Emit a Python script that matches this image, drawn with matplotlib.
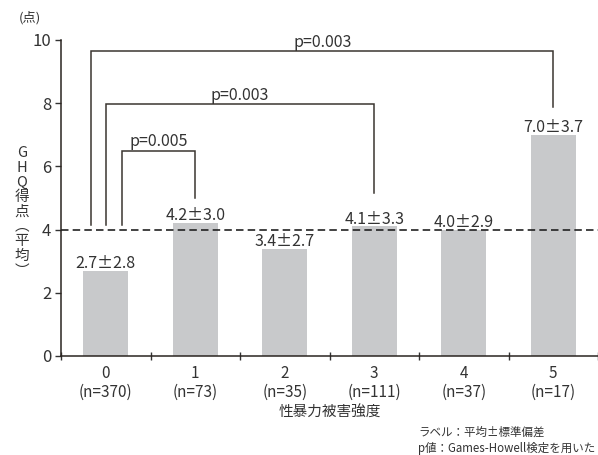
import matplotlib
matplotlib.use("Agg")
import matplotlib.pyplot as plt
import numpy as np

plt.rcParams['font.family'] = ['Noto Sans CJK JP', 'DejaVu Sans']

# data
levels = ['0', '1', '2', '3', '4', '5']
counts = [370, 73, 35, 111, 37, 17]
means = [2.7, 4.2, 3.4, 4.1, 4.0, 7.0]
sds = [2.8, 3.0, 2.7, 3.3, 2.9, 3.7]
ref_line = 4.0
# brackets: (left x, right x, top y, left foot, right foot, label)
brackets = [
    (0.18, 1.0, 6.5, 4.15, 5.0, 'p=0.005'),
    (0.0, 3.0, 7.97, 4.15, 5.15, 'p=0.003'),
    (-0.16, 5.0, 9.65, 4.15, 7.88, 'p=0.003'),
]

txt = '#333333'
linec = '#3a3530'

fig = plt.figure(figsize=(5.98, 4.55), dpi=100)
ax = fig.add_axes([61/598, (455-356)/455, (598-61)/598, (356-40)/455])

x = np.arange(len(levels))
ax.bar(x, means, width=0.5, color='#c8c9cb', zorder=2)
ax.axhline(ref_line, color='#222222', lw=1.2, ls=(0, (4.5, 2.5)), zorder=3)

for xi, m, s in zip(x, means, sds):
    ax.text(xi, m + 0.09, f'{m:.1f}±{s:.1f}', ha='center', va='baseline',
            fontsize=11.5, color=txt)

for x0, x1, top, f0, f1, lab in brackets:
    ax.plot([x0, x0, x1, x1], [f0, top, top, f1], color=linec, lw=1.1,
            zorder=4, solid_joinstyle='miter')
    ax.text((x0 + x1) / 2, top + 0.14, lab, ha='center', va='baseline',
            fontsize=11.5, color=txt)

ax.set_xlim(-0.5, 5.5)
ax.set_ylim(0, 10)
ax.set_yticks([0, 2, 4, 6, 8, 10])
ax.tick_params(axis='y', length=4, width=1, colors=txt, labelsize=12, pad=3)
ax.set_xticks(np.arange(-0.5, 5.6, 1.0))
ax.set_xticklabels([])
ax.tick_params(axis='x', direction='inout', length=6, width=1, colors=txt)
for xi, lv, n in zip(x, levels, counts):
    ax.text(xi, -0.3, f'{lv}\n(n={n})', ha='center', va='top',
            fontsize=11, color=txt, linespacing=1.1)

for side in ['top', 'right']:
    ax.spines[side].set_visible(False)
for side in ['left', 'bottom']:
    ax.spines[side].set_color('#2a2420')
    ax.spines[side].set_linewidth(1.1)

fig.text(30/598, 1 - 18/455, '(点)', ha='center', va='center', fontsize=9.5, color=txt)
fig.text(22/598, 1 - 212/455, 'G\nH\nQ\n得\n点\n︵\n平\n均\n︶', ha='center', va='center',
         fontsize=10.5, color=txt, linespacing=1.06)
fig.text(330/598, 1 - 413/455, '性暴力被害強度', ha='center', va='center',
         fontsize=10.5, color=txt)
fig.text(418/598, 1 - 432/455, 'ラベル：平均±標準偏差', ha='left', va='center',
         fontsize=8.3, color=txt)
fig.text(418/598, 1 - 448/455, 'p値：Games-Howell検定を用いた', ha='left', va='center',
         fontsize=8.3, color=txt)

fig.savefig('out.png', dpi=100)
